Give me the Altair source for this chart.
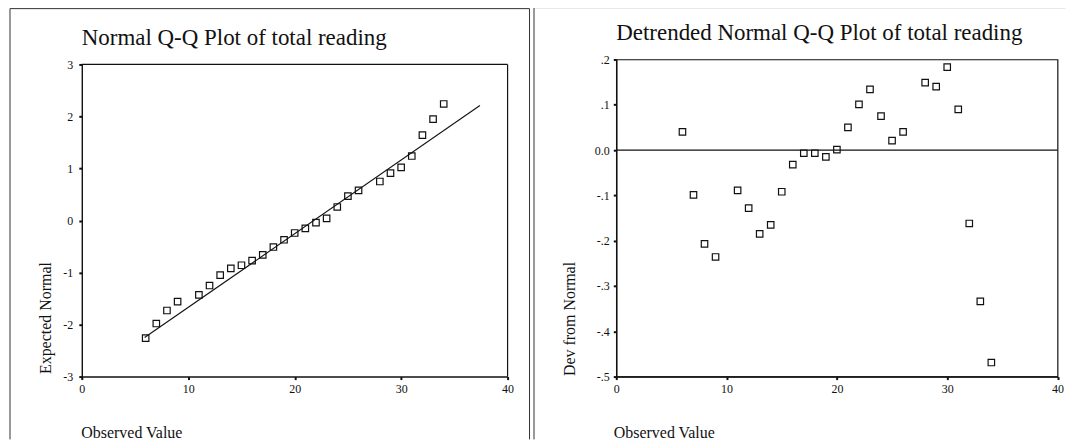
import altair as alt
import pandas as pd

# ---- data ----
obs_values = [6, 7, 8, 9, 11, 12, 13, 14, 15, 16, 17, 18, 19, 20, 21, 22, 23, 24,
              25, 26, 28, 29, 30, 31, 32, 33, 34]
expected_normal = [-2.26, -1.98, -1.73, -1.56, -1.43, -1.25, -1.05, -0.92, -0.86,
                   -0.77, -0.66, -0.51, -0.37, -0.24, -0.15, -0.04, 0.04, 0.26,
                   0.47, 0.58, 0.75, 0.91, 1.02, 1.24, 1.64, 1.95, 2.24]
dev_from_normal = [0.040, -0.099, -0.207, -0.236, -0.089, -0.128, -0.185, -0.165,
                   -0.092, -0.032, -0.007, -0.007, -0.015, 0.001, 0.050, 0.101,
                   0.134, 0.075, 0.021, 0.040, 0.149, 0.140, 0.183, 0.090,
                   -0.162, -0.334, -0.469]
line_x = [5.9, 37.4]
line_y = [-2.25, 2.21]

x_ticks = [0, 10, 20, 30, 40]
left_y_ticks = [3, 2, 1, 0, -1, -2, -3]
left_y_labels = ["3", "2", "1", "0", "-1", "-2", "-3"]
right_y_ticks = [0.2, 0.1, 0.0, -0.1, -0.2, -0.3, -0.4, -0.5]
right_y_labels = [".2", ".1", "0.0", "-.1", "-.2", "-.3", "-.4", "-.5"]

left_title = "Normal Q-Q Plot of total reading"
right_title = "Detrended Normal Q-Q Plot of total reading"
x_title = "Observed Value"
left_y_title = "Expected Normal"
right_y_title = "Dev from Normal"

FONT = "Liberation Serif"
INK = "#111111"
FRAME = "#333333"


def label_expr(vals, labels):
    expr = "''"
    for v, l in reversed(list(zip(vals, labels))):
        expr = f"abs(datum.value - ({v})) < 1e-6 ? '{l}' : ({expr})"
    return expr


pts_left = pd.DataFrame({"obs": obs_values, "val": expected_normal})
pts_right = pd.DataFrame({"obs": obs_values, "val": dev_from_normal})
line_df = pd.DataFrame({"obs": line_x, "val": line_y})
one = pd.DataFrame({"a": [0]})

W1 = 427
W2 = 442.5
H = 318


def x_enc(title_x):
    return alt.X(
        "obs:Q",
        scale=alt.Scale(domain=[0, 40], nice=False, zero=False),
        axis=alt.Axis(values=x_ticks, title=x_title, titleX=title_x, titleY=61,
                      titleAlign="left", titleBaseline="alphabetic",
                      titleAnchor="start", labelPadding=4),
    )


def y_enc(domain, rng, ticks, labels, title, tx, ty, pad):
    return alt.Y(
        "val:Q",
        scale=alt.Scale(domain=domain, range=rng, nice=False, zero=False),
        axis=alt.Axis(values=ticks, labelExpr=label_expr(ticks, labels),
                      title=title, titleAngle=270, titleAlign="left",
                      titleBaseline="top", titleX=tx, titleY=ty,
                      labelPadding=pad),
    )


def frame_rules(left, right, top, bottom, with_right):
    base = alt.Chart(one)
    layers = [
        base.mark_rule(color=FRAME, strokeWidth=1).encode(
            x=alt.value(left), x2=alt.value(right), y=alt.value(top)),
        base.mark_rule(color=FRAME, strokeWidth=1).encode(
            x=alt.value(left), y=alt.value(top), y2=alt.value(bottom)),
    ]
    if with_right:
        layers.append(base.mark_rule(color=FRAME, strokeWidth=1).encode(
            x=alt.value(right), y=alt.value(top), y2=alt.value(bottom)))
    return layers


# ---- left panel ----
xl = x_enc(-1)
yl = y_enc([-3, 3], [H, 5], left_y_ticks, left_y_labels, left_y_title, -44, H - 3, 6)

left_pts = alt.Chart(pts_left).mark_point(
    shape="square", filled=False, size=42, color=INK, strokeWidth=1.2, opacity=1
).encode(x=xl, y=yl)
left_line = alt.Chart(line_df).mark_line(color=INK, strokeWidth=1.1).encode(x=xl, y=yl)
box_top = alt.Chart(one).mark_rule(color=INK, strokeWidth=1.2).encode(y=alt.datum(3))
box_right = alt.Chart(one).mark_rule(color=INK, strokeWidth=1.2).encode(
    x=alt.datum(40), y=alt.datum(-3), y2=alt.datum(3))

left = alt.layer(
    box_top, box_right, left_line, left_pts, *frame_rules(-72, 449, -51, 381, True)
).properties(
    width=W1, height=H,
    view=alt.ViewBackground(stroke="transparent"),
    title=alt.Title(left_title, anchor="start", frame="group", offset=-59.5,
                    baseline="alphabetic", fontSize=23, font=FONT,
                    fontWeight="normal", color=INK),
)

# ---- right panel ----
xr = x_enc(-3)
yr = y_enc([-0.5, 0.2], [H, 0], right_y_ticks, right_y_labels, right_y_title,
           -54.5, H - 1, 4)

right_pts = alt.Chart(pts_right).mark_point(
    shape="square", filled=False, size=42, color=INK, strokeWidth=1.2, opacity=1
).encode(x=xr, y=yr)
zero_rule = alt.Chart(one).mark_rule(color=INK, strokeWidth=1.3).encode(y=alt.datum(0))

right = alt.layer(
    zero_rule, right_pts, *frame_rules(-82.5, 450.5, -52, 381, False)
).properties(
    width=W2, height=H,
    title=alt.Title(right_title, anchor="start", frame="group", offset=-55.5,
                    baseline="alphabetic", fontSize=23, font=FONT,
                    fontWeight="normal", color=INK),
)

chart = alt.hconcat(left, right, spacing=1).properties(
    padding={"left": 0, "top": -3, "right": 0, "bottom": 0},
    background="white",
).configure_view(
    stroke=INK, strokeWidth=1.2
).configure_axis(
    grid=False, domainColor=INK, domainWidth=1.4, tickColor=INK, tickSize=3,
    tickWidth=2, labelFont=FONT, labelFontSize=12, labelColor=INK,
    titleFont=FONT, titleFontSize=16, titleFontWeight="normal", titleColor=INK,
    labelFlush=False, labelOverlap=False,
)

chart.save("out.html", embed_options={"renderer": "svg", "actions": False})
